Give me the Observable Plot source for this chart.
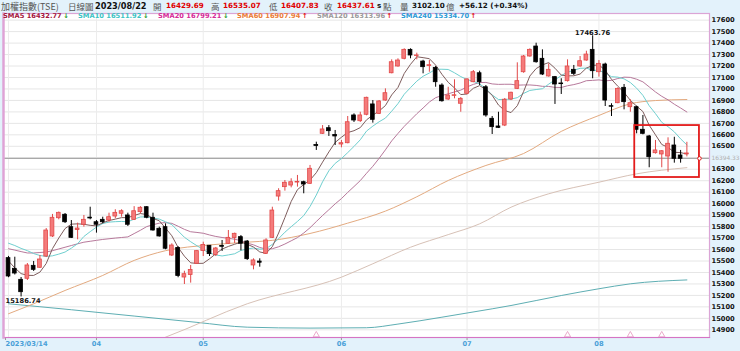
<!DOCTYPE html>
<html><head><meta charset="utf-8">
<script src="https://cdn.jsdelivr.net/npm/d3@7"></script>
<script src="https://cdn.jsdelivr.net/npm/@observablehq/plot@0.6"></script>
<style>
body{margin:0;background:#fff;}
#wrap{position:relative;width:740px;height:351px;background:#e3f2fb;overflow:hidden;font-family:"DejaVu Sans",sans-serif;}
#chart{position:absolute;left:0;top:12px;}
.t{position:absolute;white-space:nowrap;line-height:1;}
</style></head>
<body><div id="wrap"><div id="chart"></div></div>
<script>
// ---------- data ----------
const tickIndex = [0, 14, 31, 53, 73, 94];
const tickLabel = ["2023/03/14", "04", "05", "06", "07", "08"];
const gridTicks = [17600,17500,17400,17300,17200,17100,17000,16900,16800,16700,16600,16500,16400,16300,16200,16100,16000,15900,15800,15700,15600,15500,15400,15300,15200,15100,15000,14900];
const labelTicks = [17600,17500,17400,17300,17200,17100,17000,16900,16800,16700,16600,16500,16300,16200,16100,16000,15900,15800,15700,15600,15500,15400,15300,15200,15100,15000,14900];

const open = [15525,15432,15336,15345,15458,15441,15539,15714,15873,15903,15795,15770,15816,15878,15838,15859,15853,15888,15912,15897,15859,15926,15969,15877,15781,15795,15548,15614,15356,15378,15476,15587,15633,15553,15630,15650,15701,15708,15670,15461,15495,15563,15702,16062,16144,16158,16184,16187,16173,16511,16609,16658,16599,16516,16527,16769,16719,16775,16865,16783,16899,17137,17196,17263,17341,17287,17239,17200,17184,17030,16908,16940,16871,16958,17059,17137,17015,16740,16673,16681,16908,17001,17146,17283,17370,17263,17109,17103,17048,17068,17167,17196,17248,17341,17146,17213,16850,16876,17010,16841,16841,16644,16586,16440,16429,16411,16507,16420,16429.69];
const high = [15540,15533,15356,15478,15496,15548,15783,15906,15927,15914,15853,15830,15897,15969,15853,15882,15917,15947,15947,15917,15974,15974,15974,15917,15795,15824,15650,15625,15411,15461,15592,15664,15635,15618,15679,15766,15743,15722,15679,15519,15519,15694,15969,16130,16202,16217,16246,16196,16333,16536,16681,16681,16638,16551,16760,16783,16797,16928,16899,16899,17001,17254,17263,17350,17350,17312,17250,17248,17196,17045,17015,17080,16925,17089,17161,17155,17030,16760,16797,16917,16972,17228,17292,17350,17399,17341,17219,17109,17089,17254,17205,17283,17329,17463.76,17248,17225,16871,17010,17039,16906,16850,16769,16595,16551,16463,16574,16579,16464,16535.07];
const low = [15354,15378,15186.74,15330,15409,15435,15530,15705,15859,15827,15696,15685,15795,15859,15743,15824,15838,15868,15882,15801,15853,15911,15868,15760,15708,15598,15539,15354,15295,15307,15470,15539,15539,15539,15583,15644,15653,15589,15505,15423,15446,15557,15696,16022,16109,16138,16144,16086,16167,16464,16603,16586,16507,16487,16522,16708,16708,16766,16702,16777,16893,17132,17190,17254,17263,17254,17132,17146,17015,16885,16899,16914,16797,16949,17054,17030,16754,16603,16655,16672,16899,16995,17137,17277,17225,17117,17103,16865,16952,17060,17117,17190,17242,17089,17103,16847,16760,16871,16818,16797,16609,16600,16313,16432,16313,16274,16353,16353,16407.83];
const close = [15365,15391,15228,15461,15423,15513,15766,15877,15920,15838,15702,15783,15859,15871,15816,15838,15882,15920,15934,15816,15934,15964,15877,15766,15714,15607,15635,15369,15385,15422,15586,15640,15560,15609,15624,15702,15737,15650,15516,15505,15485,15679,15940,16109,16182,16187,16190,16167,16304,16503,16647,16632,16586,16527,16710,16725,16769,16923,16731,16891,16963,17233,17248,17341,17292,17292,17190,17207,17059,16893,16943,16945,16914,17083,17146,17059,16769,16667,16661,16906,16967,17068,17283,17341,17233,17126,17167,17039,17042,17196,17132,17242,17300,17155,17219,16899,16845,17001,16885,16876,16644,16609,16405,16464,16457,16522,16391,16391,16437.61];

const sma5 = [15500,15440,15390,15375,15374,15403,15478,15608,15700,15783,15821,15824,15820,15811,15806,15833,15853,15865,15878,15878,15897,15914,15905,15871,15851,15786,15720,15618,15542,15484,15479,15480,15519,15563,15604,15627,15646,15664,15646,15622,15579,15567,15625,15744,15879,16019,16122,16167,16206,16270,16362,16451,16534,16579,16620,16636,16663,16731,16772,16808,16855,16948,17013,17135,17215,17281,17273,17264,17208,17128,17058,17009,16951,16956,17006,17029,16994,16945,16860,16812,16794,16854,16977,17113,17178,17210,17230,17181,17121,17114,17115,17130,17182,17205,17210,17163,17084,17024,16970,16901,16850,16803,16684,16600,16516,16491,16448,16445,16433];
const sma10 = [15655,15635,15610,15590,15565,15548,15540,15545,15560,15578,15612,15651,15714,15756,15795,15827,15839,15843,15845,15842,15865,15884,15885,15875,15865,15842,15817,15762,15707,15668,15633,15600,15569,15553,15544,15553,15563,15592,15605,15613,15603,15607,15645,15695,15751,15799,15845,15896,15975,16075,16191,16287,16351,16393,16445,16499,16557,16633,16676,16714,16746,16806,16872,16954,17012,17068,17111,17139,17172,17172,17170,17141,17108,17082,17067,17044,17002,16948,16908,16909,16912,16924,16961,16987,16995,17002,17042,17079,17117,17146,17163,17180,17182,17163,17162,17139,17107,17103,17088,17056,17007,16944,16854,16785,16709,16671,16626,16565,16512];
const sma20 = [15607,15595,15582,15570,15570,15574,15578,15590,15605,15620,15635,15650,15664,15672,15680,15688,15694,15700,15705,15710,15739,15768,15800,15816,15830,15835,15828,15803,15776,15755,15749,15742,15727,15714,15705,15698,15690,15677,15656,15641,15618,15604,15607,15624,15648,15676,15704,15744,15790,15844,15897,15947,15998,16044,16098,16149,16201,16265,16326,16395,16469,16547,16612,16674,16729,16784,16834,16886,16924,16943,16958,16974,16990,17018,17040,17056,17057,17044,17040,17041,17041,17033,17035,17035,17031,17023,17022,17014,17013,17028,17038,17052,17072,17075,17079,17071,17075,17091,17103,17101,17085,17062,17018,16974,16936,16905,16867,16834,16799];
const sma60Idx = [0,4,9,15,20,25,32,38,42,48,54,60,65,70,76,82,88,94,99,103,108];
const sma60Val = [15040,15127,15243,15374,15505,15590,15640,15664,15680,15740,15830,15935,16060,16202,16333,16437,16630,16769,16871,16899,16908];
const sma120Idx = [18,25,38,53,58,64,70,75,80,86,94,100,108];
const sma120Val = [14700,14836,15127,15359,15476,15620,15730,15824,15969,16086,16187,16260,16314];
const sma240Idx = [0,10,20,30,38,48,57,62,69,77,80,88,94,99,108];
const sma240Val = [15127,15075,15020,14965,14923,14915,14918,14950,15010,15083,15112,15199,15258,15301,15335];

const crossValue = [16394.33];
const signalIdx = [49, 89, 99, 104];
const boxX = [99.7, 110];
const boxY = [16228, 16681];

const headerItems = [
  ["加權指數(TSE)", 1, "#555", "normal", 9, "'Noto Sans CJK TC'"],
  ["日線圖", 68, "#555", "normal", 8.5, "'Noto Sans CJK TC'"],
  ["2023/08/22", 95, "#111", "bold", 8.2, "'DejaVu Sans'"],
  ["開", 153, "#555", "normal", 8.5, "'Noto Sans CJK TC'"],
  ["16429.69", 166, "#e00000", "bold", 7.2, "'DejaVu Sans'"],
  ["高", 211, "#555", "normal", 8.5, "'Noto Sans CJK TC'"],
  ["16535.07", 223, "#e00000", "bold", 7.2, "'DejaVu Sans'"],
  ["低", 269, "#555", "normal", 8.5, "'Noto Sans CJK TC'"],
  ["16407.83", 281, "#e00000", "bold", 7.2, "'DejaVu Sans'"],
  ["收", 324, "#555", "normal", 8.5, "'Noto Sans CJK TC'"],
  ["16437.61", 337, "#e00000", "bold", 7.2, "'DejaVu Sans'"],
  ["s", 377, "#111", "bold", 7.2, "'DejaVu Sans'"],
  ["點", 383, "#555", "normal", 8.5, "'Noto Sans CJK TC'"],
  ["量", 400, "#555", "normal", 8.5, "'Noto Sans CJK TC'"],
  ["3102.10", 412, "#111", "bold", 7.2, "'DejaVu Sans'"],
  ["億", 446, "#555", "normal", 8.5, "'Noto Sans CJK TC'"],
  ["+56.12 (+0.34%)", 459, "#111", "bold", 7.2, "'DejaVu Sans'"]
];
const legendItems = [
  ["SMA5 16432.77", 3, "#a3173d", "↓"],
  ["SMA10 16511.92", 78, "#3cc4c4", "↓"],
  ["SMA20 16799.21", 158, "#d52c98", "↓"],
  ["SMA60 16907.94", 237, "#ea7d36", "↑"],
  ["SMA120 16313.96", 317, "#9a9a9a", "↑"],
  ["SMA240 15334.70", 401, "#2b9bd6", "↑"]
];

// ---------- build ----------
const candles = d3.range(close.length).map(i => ({i, o: open[i], h: high[i], l: low[i], c: close[i], up: close[i] >= open[i]}));
const line = (vals) => vals.map((v, i) => ({i, v}));
const sparse = (ix, vs) => ix.map((i, k) => ({i, v: vs[k]}));
const upFill = "#f47b7b", upStroke = "#e24848";

const chart = Plot.plot({
  width: 740, height: 339,
  marginLeft: 3, marginRight: 31, marginTop: 1, marginBottom: 14,
  x: {domain: [-0.8, 111.6]},
  y: {domain: [14833, 17658]},
  style: {background: "transparent", fontFamily: "'DejaVu Sans', sans-serif", fontSize: "6.7px", overflow: "visible"},
  marks: [
    Plot.frame({fill: "#ffffff", stroke: "none"}),
    Plot.gridY(gridTicks, {stroke: "#e6e6e6", strokeOpacity: 1}),
    Plot.gridX(tickIndex, {stroke: "#ececec", strokeOpacity: 1}),
    Plot.ruleY(crossValue, {stroke: "#a9a9a9", strokeWidth: 1.3}),
    Plot.line(sparse(sma240Idx, sma240Val), {x: "i", y: "v", stroke: "#5eaeb3", strokeWidth: 1, curve: "monotone-x", clip: true}),
    Plot.line(sparse(sma120Idx, sma120Val), {x: "i", y: "v", stroke: "#d7c1b6", strokeWidth: 1, curve: "monotone-x", clip: true}),
    Plot.line(sparse(sma60Idx, sma60Val), {x: "i", y: "v", stroke: "#e3aa80", strokeWidth: 1, curve: "monotone-x", clip: true}),
    Plot.line(line(sma20), {x: "i", y: "v", stroke: "#b7799b", strokeWidth: 1, clip: true}),
    Plot.line(line(sma10), {x: "i", y: "v", stroke: "#6fcfcf", strokeWidth: 1, clip: true}),
    Plot.line(line(sma5), {x: "i", y: "v", stroke: "#7e5d5d", strokeWidth: 1, clip: true}),
    Plot.ruleX(candles, {x: "i", y1: "l", y2: "h", stroke: d => d.up ? upStroke : "#000", strokeWidth: 1}),
    Plot.rect(candles, {x1: d => d.i - 0.3, x2: d => d.i + 0.3, y1: "o", y2: "c", fill: d => d.up ? upFill : "#000", stroke: d => d.up ? upStroke : "#000", strokeWidth: 0.8}),
    Plot.rect([{x1: boxX[0], x2: boxX[1], y1: boxY[0], y2: boxY[1]}], {x1: "x1", x2: "x2", y1: "y1", y2: "y2", fill: "none", stroke: "#e31b1b", strokeWidth: 1.8}),
    Plot.dot(crossValue, {x: () => boxX[1], y: d => d, r: 1.8, stroke: "#e31b1b", fill: "#fff", strokeWidth: 1}),
    Plot.dot(signalIdx, {x: d => d, frameAnchor: "bottom", dy: -2.5, symbol: "triangle", r: 2.3, stroke: "#e8a0c4", fill: "#fff", strokeWidth: 0.9}),
    Plot.text([candles[93]], {x: "i", y: "h", text: d => d.h.toFixed(2), lineAnchor: "bottom", dy: -1, fontWeight: "bold", fill: "#111"}),
    Plot.text([candles[2]], {x: "i", y: "l", text: d => d.l.toFixed(2), lineAnchor: "top", dy: 1, dx: 2, fontWeight: "bold", fill: "#111"}),
    Plot.text(crossValue, {y: d => d, frameAnchor: "right", dx: 2, textAnchor: "start", text: d => d.toFixed(2), fill: "#b0b0b0", fontSize: 5.9}),
    Plot.axisY(labelTicks, {anchor: "right", tickSize: 0, tickPadding: 2, tickFormat: d => String(d), fontWeight: "bold", fill: "#111", textAnchor: "start"}),
    Plot.axisX(tickIndex.slice(0, 1), {anchor: "bottom", tickSize: 3, tickPadding: 1, tickFormat: i => tickLabel[tickIndex.indexOf(i)], textAnchor: "start", dx: -3, fill: "#4aa0d8", stroke: "#999", fontWeight: "bold"}),
    Plot.axisX(tickIndex.slice(1), {anchor: "bottom", tickSize: 3, tickPadding: 1, tickFormat: i => tickLabel[tickIndex.indexOf(i)], fill: "#4aa0d8", stroke: "#999", fontWeight: "bold"}),
    Plot.frame({stroke: "#dba5d6", strokeWidth: 1.2}),
    Plot.frame({anchor: "bottom", stroke: "#d574c4", strokeWidth: 1.2}),
    Plot.frame({anchor: "left", stroke: "#dfa3d6", strokeWidth: 2.4})
  ]
});
document.getElementById("chart").appendChild(chart);

const wrap = document.getElementById("wrap");
for (const [txt, x, col, w, sz, fam] of headerItems) {
  const s = document.createElement("span");
  s.className = "t"; s.textContent = txt;
  s.style.cssText = `left:${x}px;top:${1.5 + (9 - sz) / 2}px;color:${col};font-weight:${w};font-size:${sz}px;font-family:${fam}`;
  wrap.appendChild(s);
}
for (const [txt, x, col, arrow] of legendItems) {
  const s = document.createElement("span");
  s.className = "t"; s.textContent = txt;
  s.style.cssText = `left:${x}px;top:13px;color:${col};font-weight:bold;font-size:6.7px`;
  const a = document.createElement("span");
  a.textContent = arrow;
  a.style.cssText = `color:${arrow === "↑" ? "#e01010" : "#1a9a2a"};margin-left:1.5px;font-weight:bold`;
  s.appendChild(a);
  wrap.appendChild(s);
}
</script>
</body></html>
